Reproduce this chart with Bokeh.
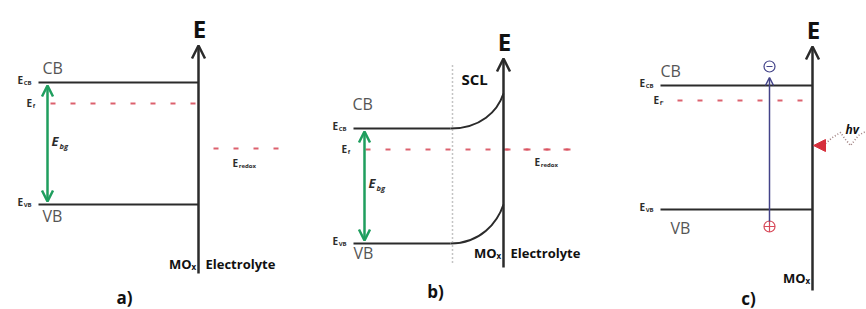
import numpy as np
from bokeh.plotting import figure
from bokeh.models import Range1d, Arrow, OpenHead, NormalHead
from bokeh.core.properties import value
from bokeh.embed import file_html
from bokeh.resources import INLINE

# ---------------- data: energy levels of the three panels (diagram units, y grows downward)
panel_names = ["a)", "b)", "c)"]
axis_x = [198, 503, 812]
axis_top = [45, 58, 46]
axis_bottom = [273, 267, 290]
band_left = [38, 353, 660]
bend_start = [198, 450, 812]
cb_bulk = [82, 128, 85]
vb_bulk = [204, 243, 209]
cb_surface = [82, 93, 85]
vb_surface = [204, 204, 209]
ef_level = [103, 149, 100]
ef_left = [50, 365, 677]
ef_right = [198, 573, 812]
redox_level = [148, 149]
redox_left = [213, 503]
redox_right = [278, 573]
fermi_names = ["f", "f", "f'"]
interface_y = [263, 252, 277]

FONT = value("Open Sans")
DARK = "#2b2b2b"
RED = "#d8505e"
GREEN = "#1f9e5e"
BLUE = "#434389"

W, H = 866, 309
p = figure(width=W, height=H, x_range=Range1d(0, W), y_range=Range1d(H, 0),
           output_backend="svg", toolbar_location=None, min_border=0)
p.axis.visible = False
p.grid.visible = False
p.outline_line_color = None
p.background_fill_color = "white"


def txt(x, y, s, size, style="normal", color=DARK, align="left", baseline="middle"):
    p.text(x=[x], y=[y], text=[s], text_font=FONT, text_font_size=value(f"{size}px"),
           text_font_style=style, text_color=color, text_align=align, text_baseline=baseline)


def sublabel(x, y, main, sub, size=10, style="bold", color=DARK):
    txt(x, y, main, size, style, color)
    txt(x + size * 0.62, y + size * 0.35, sub, size * 0.6, style, color)


cb_dx = [4, -1, 0]
vb_dx = [4, 0, 10]
cb_dy = [-15, -25, -15]
vb_dy = [11, 9, 18]

for i in range(3):
    ax = axis_x[i]
    # energy axis with open arrowhead
    p.add_layout(Arrow(end=OpenHead(size=13, line_width=2.5, line_color=DARK),
                       x_start=ax, y_start=axis_bottom[i], x_end=ax, y_end=axis_top[i],
                       line_width=2.5, line_color=DARK))
    txt(ax + 1, axis_top[i] - 17, "E", 24, "bold", "#111", "center")

    # conduction and valence bands
    p.line([band_left[i], bend_start[i]], [cb_bulk[i], cb_bulk[i]], line_width=2, line_color=DARK)
    p.line([band_left[i], bend_start[i]], [vb_bulk[i], vb_bulk[i]], line_width=2, line_color=DARK)

    # Fermi level
    p.line([ef_left[i], ef_right[i]], [ef_level[i], ef_level[i]], line_width=2.2,
           line_color=RED, line_dash="5 15", line_alpha=0.9)

    # level labels
    sublabel(band_left[i] - 21, cb_bulk[i] - 3, "E", "CB")
    sublabel(band_left[i] - 21, vb_bulk[i] - 3, "E", "VB")
    sublabel(ef_left[i] - 24, ef_level[i] - 1, "E", fermi_names[i])
    txt(band_left[i] + cb_dx[i], cb_bulk[i] + cb_dy[i], "CB", 16, "normal", "#555")
    txt(band_left[i] + vb_dx[i], vb_bulk[i] + vb_dy[i], "VB", 16, "normal", "#555")

    # interface label MO_x just left of the axis
    txt(ax - 7, interface_y[i], "MO", 13, "bold", "#111", "right")
    txt(ax - 7, interface_y[i] + 3, "x", 8, "bold", "#111", "left")

# band gap arrows (panels a and b)
for i in range(2):
    gx = ef_left[i] - 3 if i == 0 else ef_left[i] - 1
    p.add_layout(Arrow(start=OpenHead(size=11, line_width=2.5, line_color=GREEN),
                       end=OpenHead(size=11, line_width=2.5, line_color=GREEN),
                       x_start=gx, y_start=vb_bulk[i] - 3, x_end=gx, y_end=cb_bulk[i] + 3,
                       line_width=2.5, line_color=GREEN))
    mid = (cb_bulk[i] + vb_bulk[i]) / 2
    txt(gx + 4, mid - 3, "E", 13, "bold italic", DARK)
    txt(gx + 12, mid + 2, "bg", 7.5, "bold italic", DARK)
    # electrolyte label right of the axis
    txt(axis_x[i] + 7, interface_y[i], "Electrolyte", 13, "bold", "#111")

# band bending in panel b
p.bezier(x0=[bend_start[1]], y0=[cb_bulk[1]], x1=[axis_x[1]], y1=[cb_surface[1]],
         cx0=[bend_start[1] + 30], cy0=[cb_bulk[1]], cx1=[axis_x[1] - 6], cy1=[cb_surface[1] + 18],
         line_width=2, line_color=DARK)
p.bezier(x0=[bend_start[1]], y0=[vb_bulk[1]], x1=[axis_x[1]], y1=[vb_surface[1]],
         cx0=[bend_start[1] + 30], cy0=[vb_bulk[1]], cx1=[axis_x[1] - 6], cy1=[vb_surface[1] + 18],
         line_width=2, line_color=DARK)
# space charge layer boundary
p.line([bend_start[1] + 2, bend_start[1] + 2], [65, 265], line_width=1.5,
       line_color="#8a8a8a", line_dash="1 3")
txt(bend_start[1] + 11, 78, "SCL", 15, "bold", "#111")

# redox levels
for j in range(2):
    p.line([redox_left[j], redox_right[j]], [redox_level[j], redox_level[j]], line_width=2.2,
           line_color=RED, line_dash="5 15", line_alpha=0.9)
sublabel(232, 162, "E", "redox", 10)
sublabel(534, 161, "E", "redox", 10)

# panel captions
caption_x = [124, 435, 748]
caption_y = [297, 291, 298]
for i in range(3):
    txt(caption_x[i], caption_y[i], panel_names[i], 17, "bold", "#111", "center")

# photo-excitation in panel c
ex_x = 769
p.add_layout(Arrow(end=OpenHead(size=8, line_width=1.5, line_color=BLUE),
                   x_start=ex_x, y_start=vb_bulk[2] + 12, x_end=ex_x, y_end=cb_bulk[2] - 8,
                   line_width=1.5, line_color=BLUE))
p.scatter([ex_x], [cb_bulk[2] - 19], marker="circle", size=11, fill_color="white",
          line_color=BLUE, line_width=1.2)
p.scatter([ex_x], [cb_bulk[2] - 19], marker="dash", size=6, line_color=BLUE, line_width=1.2)
p.scatter([ex_x], [vb_bulk[2] + 17], marker="circle_cross", size=11, fill_color="white",
          line_color="#d84a5a", line_width=1.2)

# incoming photon (hv)
wave_x = [825, 832, 840, 845, 850, 854, 858, 863, 866]
wave_y = [143, 137, 132, 139, 145, 140, 135, 132, 131]
p.line(wave_x, wave_y, line_width=1.6, line_color="#a08080", line_dash="1 2")
p.add_layout(Arrow(end=NormalHead(size=12, fill_color="#d62f3c", line_color="#d62f3c"),
                   x_start=826, y_start=145, x_end=813, y_end=145,
                   line_width=1, line_color="#d62f3c", line_alpha=0))
txt(845, 129, "hv", 12, "bold italic", "#111")

open("out.html", "w").write(file_html(p, INLINE))
